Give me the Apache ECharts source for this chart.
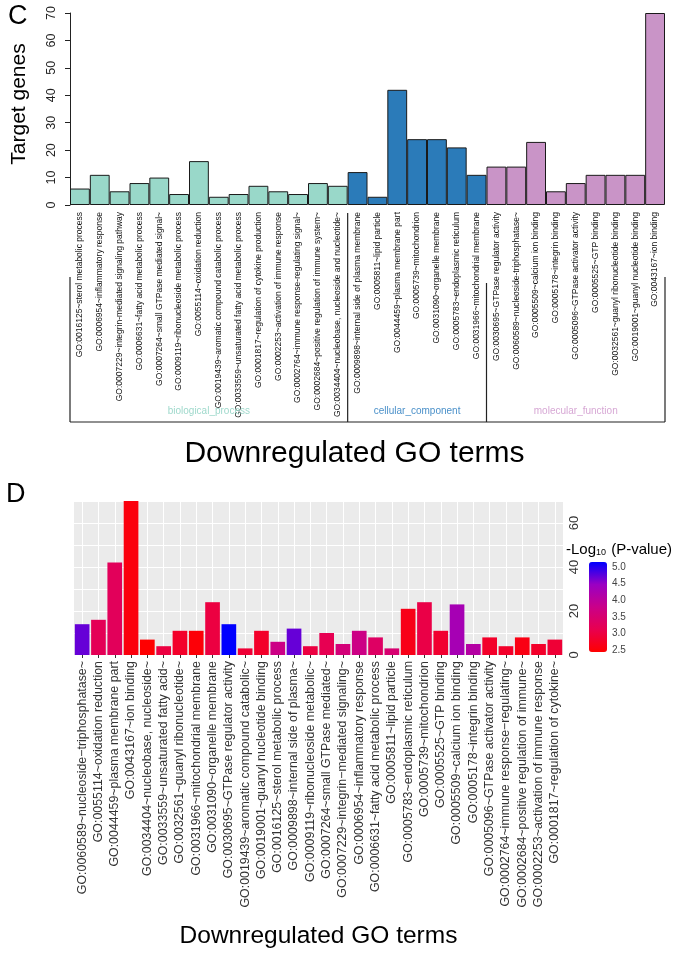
<!DOCTYPE html>
<html>
<head>
<meta charset="utf-8">
<script src="https://cdn.jsdelivr.net/npm/echarts@6/dist/echarts.min.js"></script>
<style>html,body{margin:0;padding:0;background:#fff;}#c{width:677px;height:958px;}</style>
</head>
<body>
<div id="c"></div>
<script>
// ---- Panel C data ----
const topCats = [
  'GO:0016125~sterol metabolic process',
  'GO:0006954~inflammatory response',
  'GO:0007229~integrin-mediated signaling pathway',
  'GO:0006631~fatty acid metabolic process',
  'GO:0007264~small GTPase mediated signal~',
  'GO:0009119~ribonucleoside metabolic process',
  'GO:0055114~oxidation reduction',
  'GO:0019439~aromatic compound catabolic process',
  'GO:0033559~unsaturated fatty acid metabolic process',
  'GO:0001817~regulation of cytokine production',
  'GO:0002253~activation of immune response',
  'GO:0002764~immune response-regulating signal~',
  'GO:0002684~positive regulation of immune system~',
  'GO:0034404~nucleobase, nucleoside and nucleotide~',
  'GO:0009898~internal side of plasma membrane',
  'GO:0005811~lipid particle',
  'GO:0044459~plasma membrane part',
  'GO:0005739~mitochondrion',
  'GO:0031090~organelle membrane',
  'GO:0005783~endoplasmic reticulum',
  'GO:0031966~mitochondrial membrane',
  'GO:0030695~GTPase regulator activity',
  'GO:0060589~nucleoside-triphosphatase~',
  'GO:0005509~calcium ion binding',
  'GO:0005178~integrin binding',
  'GO:0005096~GTPase activator activity',
  'GO:0005525~GTP binding',
  'GO:0032561~guanyl ribonucleotide binding',
  'GO:0019001~guanyl nucleotide binding',
  'GO:0043167~ion binding'
];
const topValues = [6, 11, 5, 8, 10, 4, 16, 3, 4, 7, 5, 4, 8, 7,
                   12, 3, 42, 24, 24, 21, 11,
                   14, 14, 23, 5, 8, 11, 11, 11, 70];
const groupNames = ['biological_process', 'cellular_component', 'molecular_function'];
const groupSizes = [14, 7, 9];
const topYTicks = [0, 10, 20, 30, 40, 50, 60, 70];

// ---- Panel D data ----
const botCats = [
  'GO:0060589~nucleoside\u2212triphosphatase~',
  'GO:0055114~oxidation reduction',
  'GO:0044459~plasma membrane part',
  'GO:0043167~ion binding',
  'GO:0034404~nucleobase, nucleoside~',
  'GO:0033559~unsaturated fatty acid~',
  'GO:0032561~guanyl ribonucleotide~',
  'GO:0031966~mitochondrial membrane',
  'GO:0031090~organelle membrane',
  'GO:0030695~GTPase regulator activity',
  'GO:0019439~aromatic compound catabolic~',
  'GO:0019001~guanyl nucleotide binding',
  'GO:0016125~sterol metabolic process',
  'GO:0009898~internal side of plasma~',
  'GO:0009119~ribonucleoside metabolic~',
  'GO:0007264~small GTPase mediated~',
  'GO:0007229~integrin\u2212mediated signaling~',
  'GO:0006954~inflammatory response',
  'GO:0006631~fatty acid metabolic process',
  'GO:0005811~lipid particle',
  'GO:0005783~endoplasmic reticulum',
  'GO:0005739~mitochondrion',
  'GO:0005525~GTP binding',
  'GO:0005509~calcium ion binding',
  'GO:0005178~integrin binding',
  'GO:0005096~GTPase activator activity',
  'GO:0002764~immune response\u2212regulating~',
  'GO:0002684~positive regulation of immune~',
  'GO:0002253~activation of immune response',
  'GO:0001817~regulation of cytokine~'
];
const botValues = [14, 16, 42, 70, 7, 4, 11, 11, 24, 14, 3, 11, 6, 12, 4, 10, 5, 11, 8, 3, 21, 24, 11, 23, 5, 8, 4, 8, 5, 7];
const botLogP = [4.7, 3.2, 3.25, 2.55, 2.45, 3.0, 2.8, 2.5, 3.0, 5.15, 2.9, 2.8, 3.75, 4.7, 3.0, 3.15, 3.6, 3.75, 3.35, 3.5,
                 2.65, 3.05, 2.85, 4.3, 4.1, 2.8, 2.8, 2.6, 2.8, 2.9];
const botYTicks = [0, 20, 40, 60];
const legendTicks = [2.5, 3.0, 3.5, 4.0, 4.5, 5.0];

const FONT = 'Liberation Sans, Arial, Helvetica, sans-serif';
const groupColors = ['#99D8C9', '#2B7BB9', '#C994C7'];
const groupTextColors = ['#9FD9CC', '#4A90C9', '#D7A8D5'];

const groupOf = [];
groupSizes.forEach((n, g) => { for (let i = 0; i < n; i++) groupOf.push(g); });

const topData = topValues.map((v, i) => ({ value: v, itemStyle: { color: groupColors[groupOf[i]] } }));
const botData = botValues.map((v, i) => [botCats[i], v, botLogP[i]]);

const chart = echarts.init(document.getElementById('c'), null, { renderer: 'canvas' });

const option = {
  backgroundColor: '#ffffff',
  animation: false,
  textStyle: { fontFamily: FONT },
  title: [
    { text: 'C', left: 8, top: 3, padding: 0, textStyle: { fontSize: 27, fontWeight: 'normal', color: '#000', fontFamily: FONT } },
    { text: 'D', left: 6, top: 481, padding: 0, textStyle: { fontSize: 27, fontWeight: 'normal', color: '#000', fontFamily: FONT } },
    { text: '{a|-Log}{s|10}{a| (P-value)}', left: 566, top: 537, padding: 0,
      textStyle: { fontWeight: 'normal', rich: {
        a: { fontSize: 15, fontWeight: 'normal', color: '#000', fontFamily: FONT, lineHeight: 20, verticalAlign: 'bottom' },
        s: { fontSize: 9, fontWeight: 'normal', color: '#000', fontFamily: FONT, lineHeight: 20, verticalAlign: 'bottom', padding: [5, 1, 0, 0] }
      } } }
  ],
  grid: [
    { left: 70, right: 12, top: 13, bottom: 753, containLabel: false },
    { left: 74, right: 114, top: 501, bottom: 303, containLabel: false, show: true, backgroundColor: '#EBEBEB', borderWidth: 0 },
    { left: 589, width: 18, top: 550.4, height: 116.2, containLabel: false }
  ],
  xAxis: [
    { type: 'category', gridIndex: 0, data: topCats,
      axisLine: { show: false }, axisTick: { show: false },
      axisLabel: { interval: 0, rotate: 90, fontSize: 8.5, color: '#111', margin: 7, fontFamily: FONT },
      name: 'Downregulated GO terms', nameLocation: 'middle', nameGap: 234,
      nameTextStyle: { fontSize: 30, color: '#000', fontFamily: FONT, padding: [0, 26, 0, 0] } },
    { type: 'category', gridIndex: 1, data: botCats,
      axisLine: { show: false },
      axisTick: { show: true, alignWithLabel: true, length: 3, lineStyle: { color: '#333' } },
      splitLine: { show: true, alignWithLabel: true, lineStyle: { color: '#ffffff', width: 1 } },
      axisLabel: { interval: 0, rotate: 90, fontSize: 12.4, color: '#333', margin: 6, fontFamily: FONT },
      name: 'Downregulated GO terms', nameLocation: 'middle', nameGap: 269,
      nameTextStyle: { fontSize: 24.5, color: '#000', fontFamily: FONT } },
    { type: 'value', gridIndex: 2, show: false, min: 0, max: 1 }
  ],
  yAxis: [
    { type: 'value', gridIndex: 0, min: topYTicks[0], max: topYTicks[topYTicks.length - 1], interval: 10,
      axisLine: { show: true, lineStyle: { color: '#222', width: 1 } },
      axisTick: { show: true, length: 5, lineStyle: { color: '#222' } },
      splitLine: { show: false },
      axisLabel: { rotate: 90, fontSize: 12.5, color: '#222', margin: 12, fontFamily: FONT },
      name: 'Target genes', nameLocation: 'middle', nameRotate: 90, nameGap: 40,
      nameTextStyle: { fontSize: 21, color: '#000', fontFamily: FONT, padding: [0, 0, 0, 10] } },
    { type: 'value', gridIndex: 1, position: 'right', min: 0, max: 70, interval: 10,
      axisLine: { show: false }, axisTick: { show: false },
      splitLine: { show: true, lineStyle: { color: '#ffffff', width: 1 } },
      axisLabel: { rotate: 90, fontSize: 13, color: '#333', margin: 5, fontFamily: FONT,
        formatter: v => botYTicks.indexOf(v) >= 0 ? String(v) : '' } },
    { type: 'value', gridIndex: 2, position: 'right', min: 2.0, max: 5.5, interval: 0.5,
      axisLine: { show: false },
      axisTick: { show: true, inside: true, length: 4, lineStyle: { color: '#ffffff', width: 1 } },
      splitLine: { show: false },
      axisLabel: { fontSize: 10, color: '#444', margin: 5, fontFamily: FONT,
        formatter: v => legendTicks.some(t => Math.abs(t - v) < 1e-6) ? v.toFixed(1) : '' } }
  ],
  visualMap: [{
    type: 'continuous', seriesIndex: 1, dimension: 2,
    min: 2.44, max: 5.15, calculable: false, padding: 0,
    orient: 'vertical', left: 589, top: 562, itemWidth: 18, itemHeight: 90,
    inRange: { color: ['#FF0000', '#E8004F', '#CA0089', '#9A00C3', '#0000FF'] },
    z: 1
  }],
  series: [
    { type: 'bar', xAxisIndex: 0, yAxisIndex: 0, data: topData, barCategoryGap: '0%',
      itemStyle: { borderColor: '#1a1a1a', borderWidth: 1 }, z: 2 },
    { type: 'bar', xAxisIndex: 1, yAxisIndex: 1, data: botData, barCategoryGap: '10%',
      encode: { x: 0, y: 1 }, z: 2 }
  ]
};
chart.setOption(option);

// group brackets below panel C labels
const c0 = chart.convertToPixel({ xAxisIndex: 0 }, topCats[0]);
const c1 = chart.convertToPixel({ xAxisIndex: 0 }, topCats[1]);
const bw = c1 - c0;
const x0 = c0 - bw / 2;
const bracketY = 422;
const lineTops = [277, 213, 283, 277];
const bounds = [0];
groupSizes.forEach(n => bounds.push(bounds[bounds.length - 1] + n));
const g = [];
g.push({ type: 'line', shape: { x1: x0, y1: bracketY, x2: x0 + bw * bounds[bounds.length - 1], y2: bracketY },
  style: { stroke: '#222', lineWidth: 1.2 } });
bounds.forEach((b, i) => {
  g.push({ type: 'line', shape: { x1: x0 + bw * b, y1: lineTops[i], x2: x0 + bw * b, y2: bracketY },
    style: { stroke: '#222', lineWidth: 1.2 } });
});
groupNames.forEach((name, i) => {
  const cx = x0 + bw * (bounds[i] + bounds[i + 1]) / 2;
  g.push({ type: 'text', x: cx, y: 411, style: { text: name, fill: groupTextColors[i], fontSize: 10,
    fontFamily: FONT, align: 'center', verticalAlign: 'middle' }, z: 10 });
});
chart.setOption({ graphic: g });
</script>
</body>
</html>
